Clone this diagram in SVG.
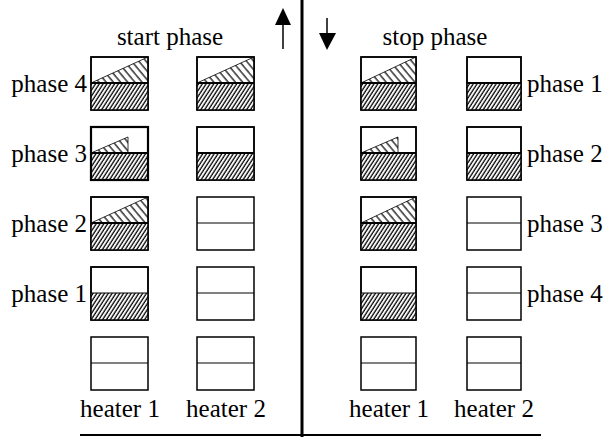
<svg xmlns="http://www.w3.org/2000/svg" width="609" height="437" viewBox="0 0 609 437">
<defs>
<pattern id="dense" patternUnits="userSpaceOnUse" width="3.2" height="10" patternTransform="rotate(33)">
<rect width="3.2" height="10" fill="#fff"/>
<line x1="1" y1="0" x2="1" y2="10" stroke="#000" stroke-width="1.3"/>
</pattern>
<pattern id="sparse" patternUnits="userSpaceOnUse" width="5.5" height="10" patternTransform="rotate(-40)">
<rect width="5.5" height="10" fill="#fff"/>
<line x1="1" y1="0" x2="1" y2="10" stroke="#000" stroke-width="1.2"/>
</pattern>
</defs>
<style>
.box{fill:#fff;stroke:#000;stroke-width:1.5}
.mid{stroke:#000;stroke-width:1}
.midb{stroke:#000;stroke-width:2}
.low{fill:url(#dense);stroke:none}
.tri{fill:url(#sparse);stroke:#000;stroke-width:0.8}
.ax{stroke:#000}
</style>
<rect width="609" height="437" fill="#fff"/>
<g id="axes">
<line class="ax" x1="302" y1="0" x2="302" y2="437" stroke-width="3"/>
<line class="ax" x1="80" y1="435" x2="541" y2="435" stroke-width="2"/>
<line class="ax" x1="283" y1="49" x2="283" y2="22" stroke-width="1.5"/>
<polygon points="275,25 291,25 283,8" fill="#000"/>
<line class="ax" x1="327" y1="18" x2="327" y2="36" stroke-width="1.5"/>
<polygon points="319,33 336,33 327,50" fill="#000"/>
</g>
<g id="L1r1"><rect class="box" x="91" y="57" width="57" height="53"/><polygon class="tri" points="91,83 148,57 148,83"/><rect class="low" x="91" y="83" width="57" height="27"/><rect x="91" y="57" width="57" height="53" fill="none" stroke="#000" stroke-width="1.5"/><line class="midb" x1="91" y1="83" x2="148" y2="83"/></g>
<g id="L1r2"><rect class="box" x="91" y="127" width="57" height="53"/><polygon class="tri" points="91,153 128,137 128,153"/><rect class="low" x="91" y="153" width="57" height="27"/><rect x="91" y="127" width="57" height="53" fill="none" stroke="#000" stroke-width="2.2"/><line class="midb" x1="91" y1="153" x2="148" y2="153"/></g>
<g id="L1r3"><rect class="box" x="91" y="197" width="57" height="53"/><polygon class="tri" points="91,223 148,197 148,223"/><rect class="low" x="91" y="223" width="57" height="27"/><rect x="91" y="197" width="57" height="53" fill="none" stroke="#000" stroke-width="1.5"/><line class="midb" x1="91" y1="223" x2="148" y2="223"/></g>
<g id="L1r4"><rect class="box" x="91" y="267" width="57" height="53"/><rect class="low" x="91" y="293" width="57" height="27"/><rect x="91" y="267" width="57" height="53" fill="none" stroke="#000" stroke-width="1.5"/><line class="mid" x1="91" y1="293" x2="148" y2="293"/></g>
<g id="L1r5"><rect class="box" x="91" y="337" width="57" height="53"/><line class="mid" x1="91" y1="363" x2="148" y2="363"/></g>
<g id="L2r1"><rect class="box" x="197" y="57" width="57" height="53"/><polygon class="tri" points="197,83 254,57 254,83"/><rect class="low" x="197" y="83" width="57" height="27"/><rect x="197" y="57" width="57" height="53" fill="none" stroke="#000" stroke-width="1.5"/><line class="midb" x1="197" y1="83" x2="254" y2="83"/></g>
<g id="L2r2"><rect class="box" x="197" y="127" width="57" height="53"/><rect class="low" x="197" y="153" width="57" height="27"/><rect x="197" y="127" width="57" height="53" fill="none" stroke="#000" stroke-width="1.5"/><line class="midb" x1="197" y1="153" x2="254" y2="153"/></g>
<g id="L2r3"><rect class="box" x="197" y="197" width="57" height="53"/><line class="mid" x1="197" y1="223" x2="254" y2="223"/></g>
<g id="L2r4"><rect class="box" x="197" y="267" width="57" height="53"/><line class="mid" x1="197" y1="293" x2="254" y2="293"/></g>
<g id="L2r5"><rect class="box" x="197" y="337" width="57" height="53"/><line class="mid" x1="197" y1="363" x2="254" y2="363"/></g>
<g id="R1r1"><rect class="box" x="361" y="57" width="55" height="53"/><polygon class="tri" points="361,83 416,57 416,83"/><rect class="low" x="361" y="83" width="55" height="27"/><rect x="361" y="57" width="55" height="53" fill="none" stroke="#000" stroke-width="1.5"/><line class="midb" x1="361" y1="83" x2="416" y2="83"/></g>
<g id="R1r2"><rect class="box" x="361" y="127" width="55" height="53"/><polygon class="tri" points="361,153 398,137 398,153"/><rect class="low" x="361" y="153" width="55" height="27"/><rect x="361" y="127" width="55" height="53" fill="none" stroke="#000" stroke-width="1.5"/><line class="midb" x1="361" y1="153" x2="416" y2="153"/></g>
<g id="R1r3"><rect class="box" x="361" y="197" width="55" height="53"/><polygon class="tri" points="361,223 416,197 416,223"/><rect class="low" x="361" y="223" width="55" height="27"/><rect x="361" y="197" width="55" height="53" fill="none" stroke="#000" stroke-width="1.5"/><line class="midb" x1="361" y1="223" x2="416" y2="223"/></g>
<g id="R1r4"><rect class="box" x="361" y="267" width="55" height="53"/><rect class="low" x="361" y="293" width="55" height="27"/><rect x="361" y="267" width="55" height="53" fill="none" stroke="#000" stroke-width="1.5"/><line class="mid" x1="361" y1="293" x2="416" y2="293"/></g>
<g id="R1r5"><rect class="box" x="361" y="337" width="55" height="53"/><line class="mid" x1="361" y1="363" x2="416" y2="363"/></g>
<g id="R2r1"><rect class="box" x="467" y="57" width="54" height="53"/><rect class="low" x="467" y="83" width="54" height="27"/><rect x="467" y="57" width="54" height="53" fill="none" stroke="#000" stroke-width="1.5"/><line class="midb" x1="467" y1="83" x2="521" y2="83"/></g>
<g id="R2r2"><rect class="box" x="467" y="127" width="54" height="53"/><rect class="low" x="467" y="153" width="54" height="27"/><rect x="467" y="127" width="54" height="53" fill="none" stroke="#000" stroke-width="1.5"/><line class="midb" x1="467" y1="153" x2="521" y2="153"/></g>
<g id="R2r3"><rect class="box" x="467" y="197" width="54" height="53"/><line class="mid" x1="467" y1="223" x2="521" y2="223"/></g>
<g id="R2r4"><rect class="box" x="467" y="267" width="54" height="53"/><line class="mid" x1="467" y1="293" x2="521" y2="293"/></g>
<g id="R2r5"><rect class="box" x="467" y="337" width="54" height="53"/><line class="mid" x1="467" y1="363" x2="521" y2="363"/></g>
<g id="labels" font-family="'Liberation Serif', 'Times New Roman', 'DejaVu Serif', serif" font-size="25" fill="#000">
<text x="170" y="45" text-anchor="middle">start phase</text>
<text x="435" y="45" text-anchor="middle">stop phase</text>
<text x="87" y="92" text-anchor="end">phase 4</text>
<text x="87" y="162" text-anchor="end">phase 3</text>
<text x="87" y="232" text-anchor="end">phase 2</text>
<text x="87" y="302" text-anchor="end">phase 1</text>
<text x="527" y="92">phase 1</text>
<text x="527" y="162">phase 2</text>
<text x="527" y="232">phase 3</text>
<text x="527" y="302">phase 4</text>
<text x="120" y="417" text-anchor="middle">heater 1</text>
<text x="226" y="417" text-anchor="middle">heater 2</text>
<text x="389" y="417" text-anchor="middle">heater 1</text>
<text x="494" y="417" text-anchor="middle">heater 2</text>
</g>
</svg>
